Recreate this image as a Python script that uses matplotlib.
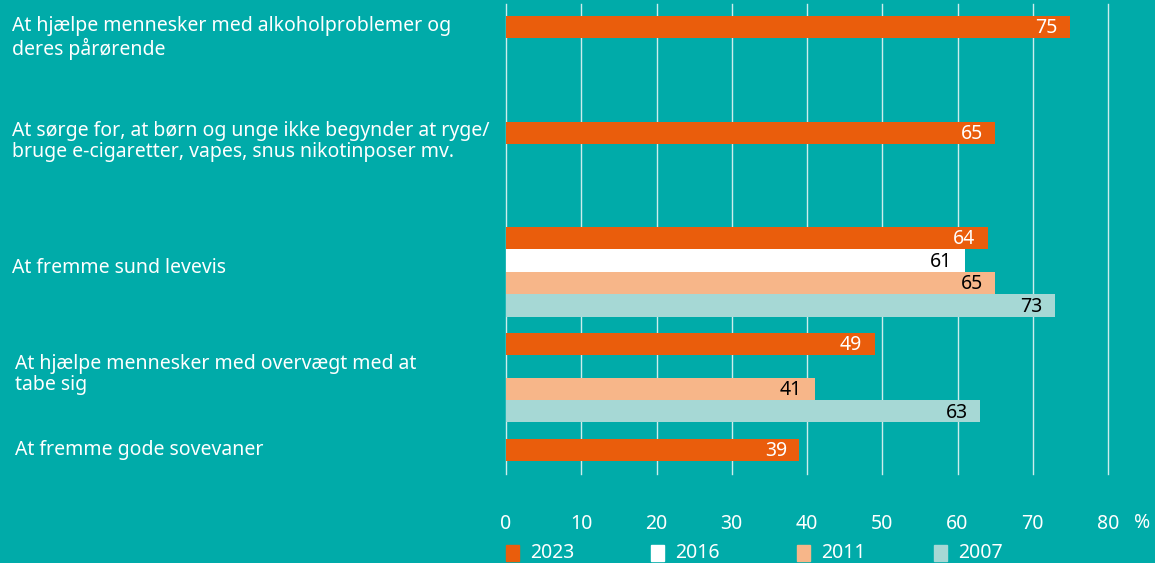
import matplotlib.pyplot as plt
from matplotlib.patches import Rectangle
from matplotlib.transforms import blended_transform_factory
import numpy as np

# Data
categories = [
    "At hjælpe mennesker med alkoholproblemer og\nderes pårørende",
    "At sørge for, at børn og unge ikke begynder at ryge/\nbruge e-cigaretter, vapes, snus nikotinposer mv.",
    "At fremme sund levevis",
    "At hjælpe mennesker med overvægt med at\ntabe sig",
    "At fremme gode sovevaner",
]
years = ["2023", "2016", "2011", "2007"]
v2023 = [75, 65, 64, 49, 39]
v2016 = [np.nan, np.nan, 61, np.nan, np.nan]
v2011 = [np.nan, np.nan, 65, 41, np.nan]
v2007 = [np.nan, np.nan, 73, 63, np.nan]
series = [v2023, v2016, v2011, v2007]
xticks = [0, 10, 20, 30, 40, 50, 60, 70, 80]

# Layout (in bar-slot units)
cat_pos = [0, 4.71, 9.38, 14.09, 18.8]
label_pos = [0.5, 5.1, 10.7, 15.45, 18.8]
label_x = [12, 12, 12, 15, 15]

bg = "#00ABA9"
colors = ["#EA5D0C", "#FFFFFF", "#F7B689", "#A6D8D5"]
text_colors = ["white", "black", "black", "black"]

plt.rcParams["font.family"] = ["Noto Sans", "DejaVu Sans"]
fs = 14

W, H = 1155, 563
fig = plt.figure(figsize=(W / 100, H / 100), dpi=100, facecolor=bg)
ax = fig.add_axes([506 / W, (H - 474) / H, 602 / W, 470 / H])
ax.set_facecolor(bg)
ax.set_xlim(0, 80)
ax.set_ylim(19.87, -1.02)

for x in xticks:
    ax.axvline(x, color="#CDEDEC", lw=1.0, zorder=1, clip_on=False)

for i, vals in enumerate(series):
    ys = np.array(cat_pos) + i * 1.0
    ax.barh(ys, vals, height=0.98, color=colors[i], zorder=2)
    for y, v in zip(ys, vals):
        if np.isnan(v):
            continue
        ax.annotate(f"{v:g}", (v, y), xytext=(-9, -1), textcoords="offset points",
                    ha="right", va="center", fontsize=fs, color=text_colors[i], zorder=3)

ax.set_yticks([])
ax.set_xticks(xticks)
ax.set_xticklabels([str(t) for t in xticks])
ax.tick_params(axis="x", length=0, pad=29, labelsize=fs, labelcolor="white")
for s in ax.spines.values():
    s.set_visible(False)

fig.text(1142 / W, (H - 523) / H, "%", fontsize=fs, color="white",
         ha="center", va="center")

lab_tr = blended_transform_factory(fig.transFigure, ax.transData)
for lab, y, lx in zip(categories, label_pos, label_x):
    ax.text(lx / W, y, lab, transform=lab_tr, ha="left", va="center",
            fontsize=fs, color="white", linespacing=1.1)

# Legend
leg_x = [506, 651, 797, 934]
for lx, yr, c in zip(leg_x, years, colors):
    fig.patches.append(Rectangle((lx / W, (H - 561) / H), 13 / W, 16 / H,
                                 transform=fig.transFigure, color=c))
    fig.text((lx + 24) / W, (H - 553) / H, yr, fontsize=fs, color="white",
             ha="left", va="center")

fig.savefig("out.png", dpi=100, facecolor=bg)
